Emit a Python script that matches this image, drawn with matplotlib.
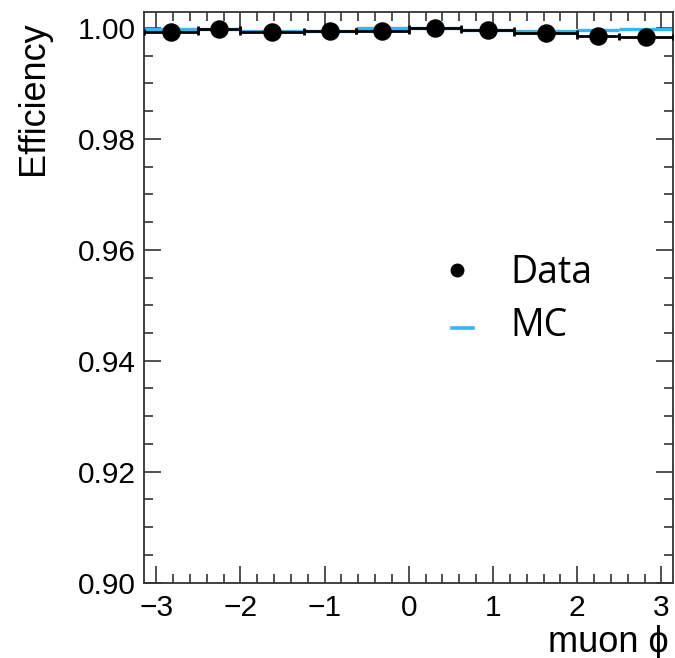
import numpy as np
import matplotlib
matplotlib.use("Agg")
import matplotlib.pyplot as plt
from matplotlib.ticker import MultipleLocator, FormatStrFormatter
from matplotlib.lines import Line2D

# Binning in muon phi and the measured efficiencies per bin
bin_edges = [-np.pi, -2.5, -2.0, -1.25, -0.625, 0.0, 0.625, 1.25, 2.0, 2.5, np.pi]
data_eff = [0.9993, 0.9997, 0.9992, 0.9994, 0.9994, 0.9999, 0.9996, 0.9990, 0.9986, 0.9984]
data_err = [0.0001, 0.0001, 0.0001, 0.0001, 0.0001, 0.0001, 0.0001, 0.0001, 0.0001, 0.0001]
mc_eff = [0.9998, 0.9997, 0.9995, 0.9995, 1.0000, 0.9999, 0.9996, 0.9995, 0.9996, 0.9998]

y_ticks = [0.90, 0.92, 0.94, 0.96, 0.98, 1.00]
x_ticks = [-3, -2, -1, 0, 1, 2, 3]

W, H = 675, 658
fig = plt.figure(figsize=(W / 100, H / 100), dpi=100)
ax = fig.add_axes([144.3 / W, 1 - 582.7 / H, (673.3 - 144.3) / W, (582.7 - 11.7) / H])

edges = np.array(bin_edges)
lo, hi = edges[:-1], edges[1:]
centers = 0.5 * (lo + hi)
half = 0.5 * (hi - lo)

mc_color = "#38b4f2"
ax.hlines(mc_eff, lo, hi, colors=mc_color, linewidth=2.4, zorder=2)
ax.errorbar(centers, data_eff, xerr=half, yerr=data_err, fmt="o", color="black",
            markersize=12.3, elinewidth=2.0, capsize=2.3, capthick=2.0, zorder=3)

ax.set_xlim(-np.pi, np.pi)
ax.set_ylim(0.90, 1.0029)
ax.set_xticks(x_ticks)
ax.set_yticks(y_ticks)
ax.xaxis.set_minor_locator(MultipleLocator(0.2))
ax.yaxis.set_minor_locator(MultipleLocator(0.005))
ax.yaxis.set_major_formatter(FormatStrFormatter("%.2f"))

tick_font = ["Liberation Sans", "DejaVu Sans"]
ax.tick_params(which="both", direction="in", top=True, right=True, width=1.1, color="#222222")
ax.tick_params(which="major", length=12.3, labelsize=21.5)
ax.tick_params(which="minor", length=6.5)
ax.tick_params(axis="y", pad=6)
ax.tick_params(axis="x", pad=8)
for lab in ax.get_xticklabels() + ax.get_yticklabels():
    lab.set_family(tick_font)
for sp in ax.spines.values():
    sp.set_linewidth(1.3)
    sp.set_color("#333333")

fig.text(33 / W, 1 - 98 / H, "Efficiency", rotation=90, ha="center", va="center",
         fontsize=26, family=tick_font)
fig.text(669 / W, 1 - 642 / H, "muon \u03d5", ha="right", va="center",
         fontsize=26, family=tick_font)

# Legend drawn by hand
leg_font = ["Open Sans", "DejaVu Sans"]
fig.add_artist(Line2D([457 / W], [1 - 270 / H], marker="o", markersize=9,
                      color="black", linestyle="none", transform=fig.transFigure))
fig.add_artist(Line2D([452 / W, 473 / W], [1 - 328 / H, 1 - 328 / H], color=mc_color,
                      linewidth=2.6, transform=fig.transFigure))
fig.text(510 / W, 1 - 273 / H, "Data", ha="left", va="center", fontsize=27, family=leg_font)
fig.text(510 / W, 1 - 326 / H, "MC", ha="left", va="center", fontsize=27, family=leg_font)

fig.savefig("out.png", dpi=100)
